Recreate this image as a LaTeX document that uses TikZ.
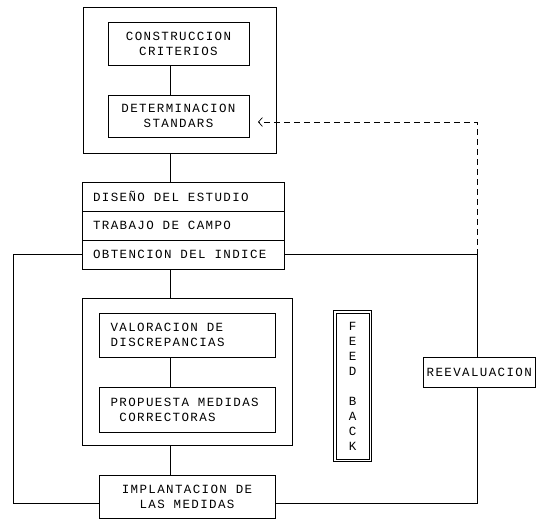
\documentclass[tikz,border=0pt]{standalone}
\usepackage{fontspec}
\newfontfamily\dotfont[LetterSpace=11]{Liberation Mono}
\newcommand\dotsize{\dotfont\fontsize{12.5}{15}\selectfont\fontdimen2\font=8.9pt\fontdimen3\font=0pt\fontdimen4\font=0pt\relax}
\usetikzlibrary{arrows.meta}
\begin{document}
\begin{tikzpicture}[x=1pt,y=-1pt,line width=0.7pt,font=\dotsize,
  box/.style={draw,inner sep=0pt,outer sep=0pt,align=center},
  row/.style={box,minimum width=202pt,minimum height=29pt,text width=180pt,inner xsep=11pt,align=flush left},
  lbox/.style={box,minimum width=176pt,text width=153pt,inner xsep=11.5pt,align=flush left},
  fb/.style={dash pattern=on 6pt off 4pt}]
\useasboundingbox (0,0) rectangle (536,520);
\coordinate (spine) at (170,0);
\node[box,minimum width=193pt,minimum height=146pt] (topfrm) at (179.5,80) {};
\node[box,minimum width=141pt,minimum height=43pt] (crit) at (178.5,43.5) {CONSTRUCCION\\CRITERIOS};
\node[box,minimum width=141pt,minimum height=42pt] (std) at (178.5,116) {DETERMINACION\\STANDARS};
\node[row] (dis) at (183,196.5) {DISEÑO DEL ESTUDIO};
\node[row] (trab) at (183,225.5) {TRABAJO DE CAMPO};
\node[row] (obt) at (183,254.5) {OBTENCION DEL INDICE};
\node[box,minimum width=210pt,minimum height=147pt] (midfrm) at (187,371.5) {};
\node[lbox,minimum height=44pt] (val) at (187,335) {VALORACION DE\\DISCREPANCIAS};
\node[lbox,minimum height=45pt] (prop) at (187,409.5) {PROPUESTA MEDIDAS\\~CORRECTORAS};
\node[box,minimum width=176pt,minimum height=43pt] (impl) at (187,496.5) {IMPLANTACION DE\\LAS MEDIDAS};
\node[box,minimum width=112.4pt,minimum height=30pt] (reev) at (479.2,372) {REEVALUACION};
\node[box,minimum width=33pt,minimum height=146pt] (feed) at (352.5,386) {F\\E\\E\\D\\[15pt]B\\A\\C\\K};
\draw ([xshift=-2.5pt,yshift=-2.5pt]feed.south west) rectangle ([xshift=2.5pt,yshift=2.5pt]feed.north east);
\foreach \a/\b in {crit/std,topfrm/dis,obt/midfrm,val/prop,midfrm/impl} \draw (\a.south -| spine) -- (\b.north -| spine);
\coordinate (lft) at (13,503);
\coordinate (rgt) at (477,503);
\coordinate (tip) at (477,122);
\draw (impl.west |- lft) -- (lft) |- (obt.west);
\draw (impl.east |- rgt) -- (rgt) -- (reev.south -| rgt);
\draw (obt.east) -- (obt.east -| rgt) -- (reev.north -| rgt);
\draw[fb,-{Straight Barb[length=4pt,width=9pt]}] (obt.east -| rgt) -- (tip) -- ([xshift=9pt]std.east |- tip);
\end{tikzpicture}
\end{document}
